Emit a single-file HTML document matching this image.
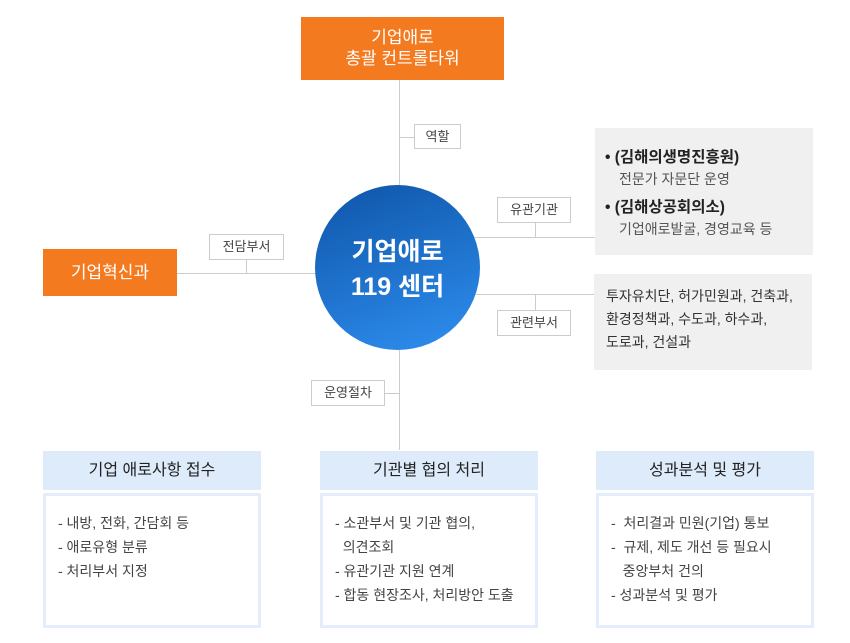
<!DOCTYPE html>
<html><head><meta charset="utf-8"><style>
body{margin:0;width:850px;height:643px;background:#fff;position:relative;font-family:"Liberation Sans","Noto Sans CJK KR",sans-serif;overflow:hidden}
.a{position:absolute;box-sizing:border-box}
.ln{position:absolute;background:#ccc}
.or{background:#f47a20;color:#fff;text-align:center}
.lb{background:#fff;border:1px solid #ccc;font-size:13px;color:#444;text-align:center;line-height:23px}
.gr{background:#f1f0f1;color:#444}
.hd{background:#deebfb;font-size:16px;color:#222;text-align:center;line-height:39px}
.bd{border:3px solid #e3edfb;background:#fff;font-size:14px;color:#444;line-height:24px;padding:15px 0 0 12px}
</style></head><body>
<div class="ln" style="left:399px;top:80px;width:1px;height:370px"></div>
<div class="ln" style="left:399px;top:137px;width:15px;height:1px"></div>
<div class="ln" style="left:399px;top:237px;width:196px;height:1px"></div>
<div class="ln" style="left:535px;top:222px;width:1px;height:15px"></div>
<div class="ln" style="left:399px;top:294px;width:195px;height:1px"></div>
<div class="ln" style="left:535px;top:294px;width:1px;height:16px"></div>
<div class="ln" style="left:177px;top:273px;width:222px;height:1px"></div>
<div class="ln" style="left:246px;top:259px;width:1px;height:14px"></div>
<div class="ln" style="left:384px;top:393px;width:15px;height:1px"></div>

<div class="a or" style="left:301px;top:17px;width:203px;height:63px;font-size:17px;line-height:21px;padding-top:10px">기업애로<br>총괄 컨트롤타워</div>
<div class="a or" style="left:43px;top:249px;width:134px;height:47px;font-size:17px;line-height:47px">기업혁신과</div>

<div class="a" style="left:315px;top:185px;width:165px;height:165px;border-radius:50%;background:linear-gradient(160deg,#0e55a8,#2f8ff0);color:#fff;text-align:center;font-size:25px;font-weight:bold;line-height:35px;padding-top:50px">기업애로<br>119 센터</div>

<div class="a lb" style="left:414px;top:124px;width:47px;height:25px">역할</div>
<div class="a lb" style="left:497px;top:197px;width:74px;height:26px">유관기관</div>
<div class="a lb" style="left:497px;top:310px;width:74px;height:26px">관련부서</div>
<div class="a lb" style="left:209px;top:234px;width:75px;height:26px">전담부서</div>
<div class="a lb" style="left:311px;top:380px;width:74px;height:26px">운영절차</div>

<div class="a gr" style="left:595px;top:128px;width:218px;height:127px;padding:19px 0 0 10px">
<div style="font-size:15.5px;color:#222;line-height:22px;font-weight:bold">• (김해의생명진흥원)</div>
<div style="font-size:14px;line-height:20px;padding-left:14px;color:#555">전문가 자문단 운영</div>
<div style="font-size:15.5px;color:#222;line-height:22px;margin-top:8px;font-weight:bold">• (김해상공회의소)</div>
<div style="font-size:14px;line-height:20px;padding-left:14px;color:#555">기업애로발굴, 경영교육 등</div>
</div>
<div class="a gr" style="left:594px;top:274px;width:218px;height:96px;padding:11px 0 0 12px;font-size:14px;line-height:23px;color:#333">투자유치단, 허가민원과, 건축과,<br>환경정책과, 수도과, 하수과,<br>도로과, 건설과</div>

<div class="a hd" style="left:43px;top:451px;width:218px;height:39px">기업 애로사항 접수</div>
<div class="a hd" style="left:320px;top:451px;width:218px;height:39px">기관별 협의 처리</div>
<div class="a hd" style="left:596px;top:451px;width:218px;height:39px">성과분석 및 평가</div>
<div class="a bd" style="left:43px;top:493px;width:218px;height:135px">- 내방, 전화, 간담회 등<br>- 애로유형 분류<br>- 처리부서 지정</div>
<div class="a bd" style="left:320px;top:493px;width:218px;height:135px">- 소관부서 및 기관 협의,<br>&nbsp;&nbsp;의견조회<br>- 유관기관 지원 연계<br>- 합동 현장조사, 처리방안 도출</div>
<div class="a bd" style="left:596px;top:493px;width:218px;height:135px">-&nbsp; 처리결과 민원(기업) 통보<br>-&nbsp; 규제, 제도 개선 등 필요시<br>&nbsp;&nbsp;&nbsp;중앙부처 건의<br>- 성과분석 및 평가</div>
</body></html>
